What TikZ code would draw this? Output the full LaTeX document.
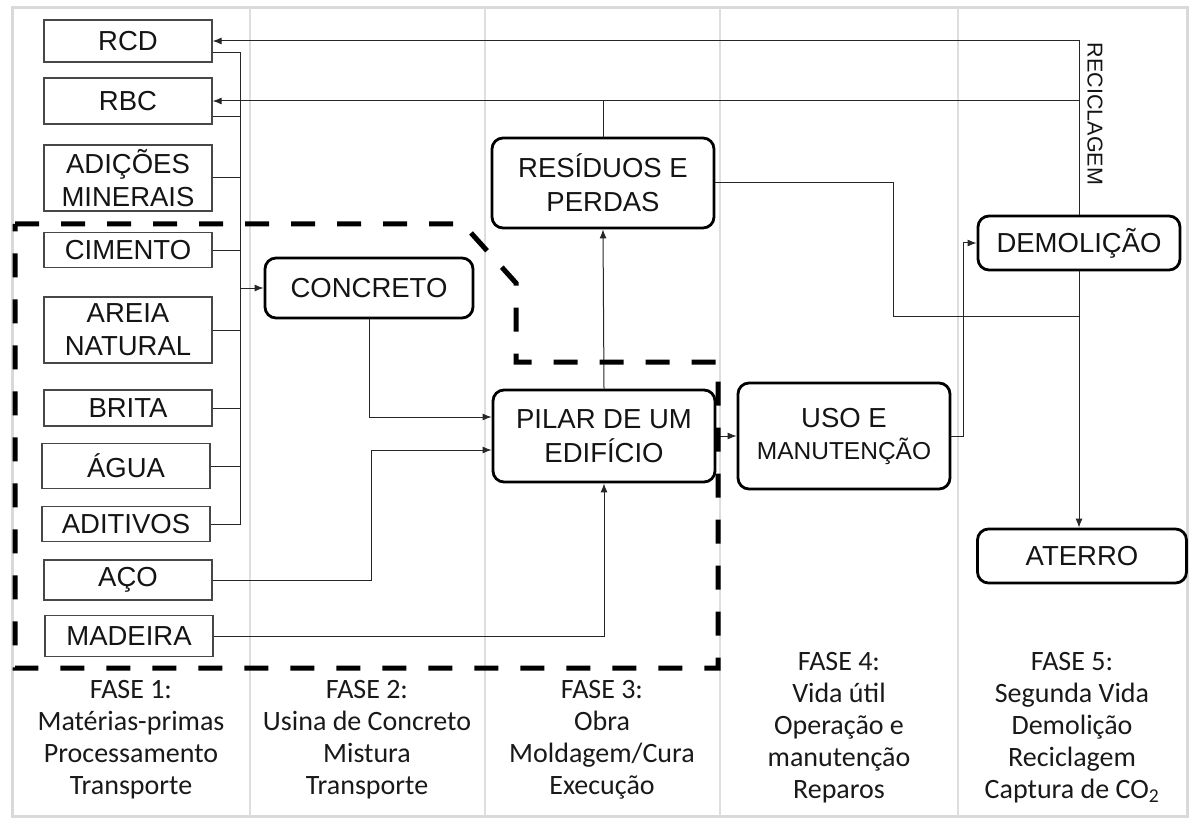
\documentclass[tikz,border=0pt]{standalone}
\usepackage{fontspec}
\setmainfont{Liberation Sans}
\newfontfamily\phasefont{Carlito}
\usetikzlibrary{arrows.meta,calc}

\begin{document}
\begin{tikzpicture}[x=1pt,y=-1pt,
  raw/.style={draw=black!72,line width=1.3pt,minimum width=168pt,inner sep=0pt,
    align=center,text=black!92,font=\fontsize{27.5}{33}\selectfont},
  proc/.style={draw=black,line width=2.8pt,rounded corners=11pt,inner sep=0pt,
    align=center,text=black!92,font=\fontsize{27.5}{34}\selectfont},
  link/.style={draw=black!85,line width=1pt},
  arr/.style={link,-{Latex[length=9pt,width=7pt]}},
  phase/.style={font=\phasefont\fontsize{28}{32}\selectfont,align=center,text=black!90},
  divider/.style={draw=black!13,line width=1.5pt},
  scopeline/.style={draw=black,line width=5pt,dash pattern=on 24pt off 22pt,line join=miter}
]
\useasboundingbox (0,0) rectangle (1190,818);

% frame and phase columns
\draw[draw=black!15,line width=3pt] (12,8) rectangle (1187,816);
\foreach \cx in {250,485,720,958}
  \draw[divider] (\cx,8) -- (\cx,816);

% raw materials
\node[raw,minimum height=42pt] (rcd)   at (128,41)  {RCD};
\node[raw,minimum height=46pt] (rbc)   at (128,101) {RBC};
\node[raw,minimum height=66pt] (adic)  at (128,178) {ADIÇÕES\\MINERAIS};
\node[raw,minimum height=35pt] (cim)   at (128,250) {CIMENTO};
\node[raw,minimum height=66pt] (areia) at (128,330) {AREIA\\NATURAL};
\node[raw,minimum height=36pt] (brita) at (128,408) {BRITA};
\node[raw,minimum height=45pt] (agua)  at (126,466) {ÁGUA};
\node[raw,minimum height=35pt] (adit)  at (126,524) {ADITIVOS};
\node[raw,minimum height=40pt] (aco)   at (128,580) {AÇO};
\node[raw,minimum height=41pt] (mad)   at (129,636) {MADEIRA};

% process stages
\node[proc,minimum width=208pt,minimum height=60pt] (conc) at (369,288) {CONCRETO};
\node[proc,minimum width=222pt,minimum height=90pt] (res)  at (603,183) {RESÍDUOS E\\PERDAS};
\node[proc,minimum width=222pt,minimum height=92pt] (pilar) at (604,436) {PILAR DE UM\\EDIFÍCIO};
\node[proc,minimum width=212pt,minimum height=106pt] (uso) at (844,436)
  {USO E\\[-2pt]{\fontsize{24.5}{29}\selectfont MANUTENÇÃO}};
\node[proc,minimum width=202pt,minimum height=54pt] (dem)  at (1079,243) {DEMOLIÇÃO};
\node[proc,minimum width=209pt,minimum height=54pt] (ater) at (1082,556) {ATERRO};

\node[rotate=-90,font=\fontsize{21.5}{24}\selectfont,text=black!92] (recic) at (1095,114) {RECICLAGEM};

% collector bus of the mix ingredients
\coordinate (bustop) at (240,53);
\coordinate (busbot) at (240,524);
\draw[link] ([yshift=-12pt]rcd.east) -- (bustop) -- (busbot) -- (adit.east);
\draw[link] ([yshift=-16pt]rbc.east) -| (bustop);
\draw[link] (adic.east) -| (bustop);
\draw[link] (cim.east) -| (bustop);
\draw[link] (areia.east) -| (bustop);
\draw[link] (brita.east) -| (bustop);
\draw[link] (agua.east) -| (bustop);
\draw[arr] (bustop |- conc.west) -- (conc.west);

% inputs to the column
\coordinate (acoturn) at (371,450);
\draw[arr] (conc.south) |- ([yshift=19pt]pilar.west);
\draw[arr] (aco.east) -| (acoturn) -- ([yshift=-14pt]pilar.west);
\draw[arr] (mad.east) -| (pilar.south);
\draw[arr] (pilar.north) -- (res.south);
\draw[arr] (pilar.east) -- (uso.west);

% use phase to demolition
\coordinate (usoturn) at (963,243);
\draw[arr] (uso.east) -| (usoturn) -- (dem.west);

% recycling loops back to the raw materials
\draw[arr] (dem.north) -- (dem.north |- rcd.east) -- (rcd.east);
\draw[arr] (dem.north |- rbc.east) -- (rbc.east);
\draw[link] (res.north) -- (res.north |- rbc.east);

% waste and demolition rubble to landfill
\coordinate (resturn) at (893,316);
\draw[link] (res.east) -| (resturn) -- (resturn -| dem.south);
\draw[arr] (dem.south) -- (dem.south |- ater.north);

% scope boundary
\draw[scopeline] (15,224) -- (463,224) -- (516,283) -- (516,362) -- (718,362)
  -- (718,668) -- (15,668) -- cycle;

% phase captions
\node[phase] (f1) at (131,740) {FASE 1:\\Matérias-primas\\Processamento\\Transporte};
\node[phase] (f2) at (367,740) {FASE 2:\\Usina de Concreto\\Mistura\\Transporte};
\node[phase] (f3) at (602,740) {FASE 3:\\Obra\\Moldagem/Cura\\Execução};
\node[phase] (f4) at (839,728) {FASE 4:\\Vida útil\\Operação e\\manutenção\\Reparos};
\node[phase] (f5) at (1072,728) {FASE 5:\\Segunda Vida\\Demolição\\Reciclagem\\Captura de CO\textsubscript{2}};
\end{tikzpicture}
\end{document}
